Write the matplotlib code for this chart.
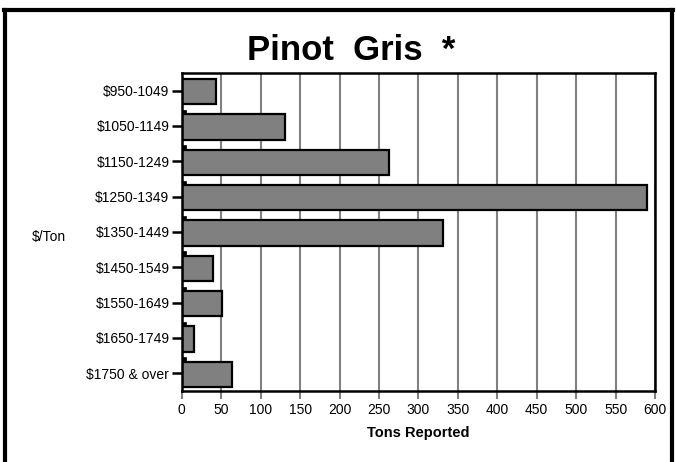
import matplotlib
matplotlib.use("Agg")
import matplotlib.pyplot as plt
from matplotlib.lines import Line2D
import numpy as np

# ---------- Data ----------
price_bands = ["$950-1049", "$1050-1149", "$1150-1249", "$1250-1349", "$1350-1449",
               "$1450-1549", "$1550-1649", "$1650-1749", "$1750 & over"]
tons_reported = [43, 131, 263, 590, 331, 39, 51, 15, 64]
# tiny second series visible as black squares under each bar
tons_other = [5, 5, 5, 5, 5, 5, 5, 5, 5]
x_ticks = list(range(0, 601, 50))

plt.rcParams["font.family"] = ["Liberation Sans", "DejaVu Sans"]

fig = plt.figure(figsize=(6.76, 4.62), dpi=100)
ax = fig.add_axes([0.269, 0.154, 0.700, 0.688])

y = np.arange(len(price_bands))
ax.barh(y + 0.03, tons_reported, height=0.72, color="#808080",
        edgecolor="black", linewidth=1.6, zorder=3)
ax.barh(y + 0.6, tons_other, height=0.1, color="black",
        edgecolor="black", linewidth=0.5, zorder=3)

ax.set_ylim(len(price_bands) - 0.5, -0.5)
ax.set_xlim(0, 600)
ax.set_yticks(y)
ax.set_yticklabels(price_bands, fontsize=10)
ax.set_xticks(x_ticks)
ax.set_xticklabels([str(t) for t in x_ticks], fontsize=10)

ax.grid(axis="x", color="#808080", linewidth=1.5, zorder=0)
ax.tick_params(axis="x", colors="#808080", length=6, width=1.5, labelcolor="black", pad=3)
ax.tick_params(axis="y", color="black", length=7, width=1.8, pad=2)
for s in ax.spines.values():
    s.set_linewidth(1.8)
    s.set_color("black")
    s.set_zorder(4)

ax.set_xlabel("Tons Reported", fontsize=10.5, fontweight="bold", labelpad=6)
fig.text(0.073, 0.487, "$/Ton", fontsize=10, ha="center", va="center")
fig.text(0.52, 0.870, "Pinot  Gris  *", fontsize=25, fontweight="bold",
         ha="center", va="baseline")

# frame around the figure (open at the bottom)
lw = 3
fig.add_artist(Line2D([0.008, 0.008], [0.0, 0.979], color="black", linewidth=lw,
                      transform=fig.transFigure))
fig.add_artist(Line2D([0.994, 0.994], [0.0, 0.979], color="black", linewidth=lw,
                      transform=fig.transFigure))
fig.add_artist(Line2D([0.006, 0.996], [0.979, 0.979], color="black", linewidth=lw,
                      transform=fig.transFigure))

fig.savefig("out.png", dpi=100)
